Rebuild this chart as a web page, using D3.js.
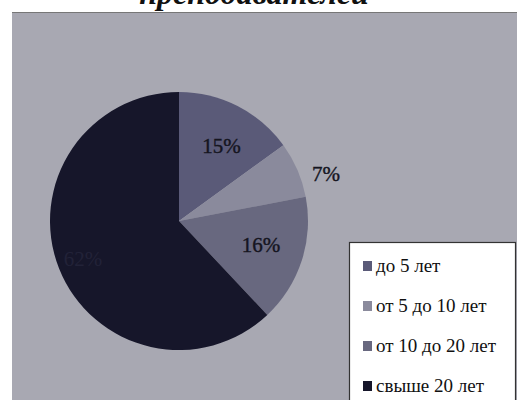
<!DOCTYPE html>
<html><head><meta charset="utf-8">
<script src="https://cdn.jsdelivr.net/npm/d3@7"></script>
<style>body{margin:0;background:#fff}svg{display:block}</style>
</head><body>
<svg id="c" width="517" height="400"></svg>
<script>
const categories = ["до 5 лет", "от 5 до 10 лет", "от 10 до 20 лет", "свыше 20 лет"];
const values = [15, 7, 16, 62];
const labels = ["15%", "7%", "16%", "62%"];
const colors = ["#5a5a78", "#8a8a9c", "#68687f", "#16162a"];
const title = "преподавателей";

const svg = d3.select("#c");
// title (cut off at top, as in the reference)
svg.append("text").attr("x", 254).attr("y", 4).attr("text-anchor", "middle")
  .attr("font-family", "Liberation Serif").attr("font-weight", "bold").attr("font-style", "italic")
  .attr("font-size", 32).attr("fill", "#111").text(title);

// plot background
svg.append("rect").attr("x", 12).attr("y", 12).attr("width", 505).attr("height", 388)
  .attr("fill", "#a8a8b2");
svg.append("line").attr("x1", 12).attr("x2", 517).attr("y1", 12.5).attr("y2", 12.5)
  .attr("stroke", "#777").attr("stroke-width", 1);

const cx = 179, cy = 221, r = 129;
const pie = d3.pie().sort(null).value(d => d)(values);
const arc = d3.arc().innerRadius(0).outerRadius(r);
const g = svg.append("g").attr("transform", `translate(${cx},${cy})`);
g.selectAll("path").data(pie).join("path").attr("d", arc).attr("fill", (d, i) => colors[i]);

// label placement (layout, not data): radius factor, horizontal and vertical shift
const labelR = [0.64, 1.2, 0.66, 0.8];
const labelDx = [5, 5, 1, 0];
const labelDy = [-1, 14, -2, 0];
g.selectAll("text.l").data(pie).join("text").attr("class", "l")
  .attr("x", (d, i) => Math.sin((d.startAngle + d.endAngle) / 2) * r * labelR[i] + labelDx[i])
  .attr("y", (d, i) => -Math.cos((d.startAngle + d.endAngle) / 2) * r * labelR[i] + labelDy[i] + 7)
  .attr("text-anchor", "middle")
  .attr("font-family", "Liberation Serif").attr("font-size", 21)
  .attr("fill", (d, i) => i === 3 ? "#222238" : "#15151f")
  .attr("stroke", (d, i) => i === 3 ? "none" : "#15151f").attr("stroke-width", 0.4)
  .text((d, i) => labels[i]);

// legend
const lg = svg.append("g");
lg.append("rect").attr("x", 349.5).attr("y", 242.5).attr("width", 166).attr("height", 170)
  .attr("fill", "#fff").attr("stroke", "#333").attr("stroke-width", 1.2);
const items = lg.selectAll("g.i").data(categories).join("g").attr("class", "i")
  .attr("transform", (d, i) => `translate(363,${272 + i * 40})`);
items.append("rect").attr("x", 0).attr("y", -11).attr("width", 9).attr("height", 10)
  .attr("fill", (d, i) => colors[i]);
items.append("text").attr("x", 13).attr("y", 0)
  .attr("font-family", "Liberation Serif").attr("font-size", 19).attr("fill", "#111")
  .text(d => d);
</script>
</body></html>
